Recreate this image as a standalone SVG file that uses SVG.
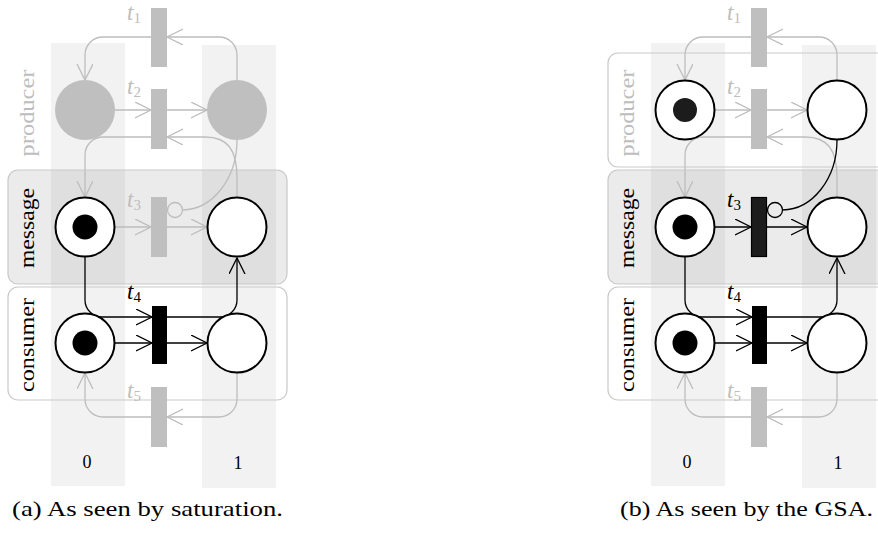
<svg xmlns="http://www.w3.org/2000/svg" width="878" height="539" viewBox="0 0 878 539">
  <style>
    .band { fill: #f2f2f2; }
    .lane { fill: none; stroke: #c9c9c9; stroke-width: 1.2; }
    .lane.msg { fill: #000; fill-opacity: 0.08; }
    .arc { fill: none; stroke-width: 1.3; }
    .g { stroke: #bdbdbd; }
    .k { stroke: #000; }
    .place { fill: #fff; stroke: #000; stroke-width: 2; }
    .gplace { fill: #bfbfbf; }
    .tok { fill: #000; }
    .tr-g { fill: #bfbfbf; }
    .tr-k { fill: #000; }
    .inh { fill: none; stroke-width: 1.3; }
    .tl { font-family: "Liberation Serif", serif; font-size: 23px; font-style: italic; }
    .tl tspan { font-size: 15px; font-style: normal; }
    .tl.gl { fill: #bdbdbd; }
    .ll { font-family: "Liberation Serif", serif; font-size: 22px; text-anchor: middle; }
    .ll.gl { fill: #bdbdbd; }
    .cl { font-family: "Liberation Serif", serif; font-size: 18px; text-anchor: middle; }
    .cap { font-family: "Liberation Serif", serif; font-size: 22px; }
  </style>
  <defs>
    <marker id="ah-g" markerUnits="userSpaceOnUse" viewBox="0 0 20 20" markerWidth="20" markerHeight="20" refX="16" refY="8" orient="auto">
      <path d="M0,0 L16,8 L0,16" fill="none" stroke="#bdbdbd" stroke-width="1.3"/>
    </marker>
    <marker id="ah-k" markerUnits="userSpaceOnUse" viewBox="0 0 20 20" markerWidth="20" markerHeight="20" refX="16" refY="8" orient="auto">
      <path d="M0,0 L16,8 L0,16" fill="none" stroke="#000" stroke-width="1.3"/>
    </marker>
  </defs>

  <!-- (a) saturation view -->
  <g id="fig-a">
    <rect class="band" x="51" y="43" width="74" height="443"/>
    <rect class="band" x="202" y="45" width="74" height="443"/>
    <rect class="lane msg" x="8" y="170" width="279" height="114" rx="10"/>
    <rect class="lane" x="8" y="287" width="279" height="113" rx="10"/>
    <text class="ll gl" transform="translate(33.5,113) rotate(-90)" x="0" y="0" textLength="87" lengthAdjust="spacingAndGlyphs">producer</text>
    <text class="ll" transform="translate(33.5,228) rotate(-90)" x="0" y="0" textLength="80" lengthAdjust="spacingAndGlyphs">message</text>
    <text class="ll" transform="translate(33.5,345) rotate(-90)" x="0" y="0" textLength="94" lengthAdjust="spacingAndGlyphs">consumer</text>

    <g id="a-connectors">
      <path class="arc g" d="M237,80 V55 A18,18 0 0 0 219,37 H167" marker-end="url(#ah-g)"/>
      <path class="arc g" d="M151,37 H103 A18,18 0 0 0 85,55 V80" marker-end="url(#ah-g)"/>
      <path class="arc g" d="M115,110 H151" marker-end="url(#ah-g)"/>
      <path class="arc g" d="M167,110 H207" marker-end="url(#ah-g)"/>
      <path class="arc g" d="M237,198 V178 C237,150 228,137 205,137 H167" marker-end="url(#ah-g)"/>
      <path class="arc g" d="M151,137 H103 A18,18 0 0 0 85,155 V197" marker-end="url(#ah-g)"/>
      <path class="arc g" d="M237,140 A55,70 0 0 1 182.5,210"/>
      <circle class="inh g" cx="175" cy="210" r="7.5"/>
      <path class="arc g" d="M115,227 H151" marker-end="url(#ah-g)"/>
      <path class="arc g" d="M167,227 H207" marker-end="url(#ah-g)"/>
      <path class="arc k" d="M85,257 V300 A17,17 0 0 0 102,317 H152" marker-end="url(#ah-k)"/>
      <path class="arc k" d="M167,317 H220 A17,17 0 0 0 237,300 V258" marker-end="url(#ah-k)"/>
      <path class="arc k" d="M115,343 H152" marker-end="url(#ah-k)"/>
      <path class="arc k" d="M167,343 H207" marker-end="url(#ah-k)"/>
      <path class="arc g" d="M237,373 V399 A18,18 0 0 1 219,417 H167" marker-end="url(#ah-g)"/>
      <path class="arc g" d="M151,417 H103 A18,18 0 0 1 85,399 V373" marker-end="url(#ah-g)"/>
    </g>

    <g id="a-prod-0"><circle class="gplace" cx="85" cy="110" r="30"/></g>
    <g id="a-prod-1"><circle class="gplace" cx="237" cy="110" r="30"/></g>
    <g id="a-msg-0"><circle class="place" cx="85" cy="227" r="29.5"/><circle class="tok" cx="85" cy="227" r="12.5"/></g>
    <g id="a-msg-1"><circle class="place" cx="237" cy="227" r="29.5"/></g>
    <g id="a-cons-0"><circle class="place" cx="85" cy="343" r="29.5"/><circle class="tok" cx="85" cy="343" r="12.5"/></g>
    <g id="a-cons-1"><circle class="place" cx="237" cy="343" r="29.5"/></g>

    <g id="a-t1"><rect class="tr-g" x="151" y="8" width="16" height="59"/><text class="tl gl" x="127" y="20">t<tspan dy="3">1</tspan></text></g>
    <g id="a-t2"><rect class="tr-g" x="151" y="89" width="16" height="60"/><text class="tl gl" x="127" y="94">t<tspan dy="3">2</tspan></text></g>
    <g id="a-t3"><rect class="tr-g" x="151" y="197" width="16" height="60"/><text class="tl gl" x="127" y="207">t<tspan dy="3">3</tspan></text></g>
    <g id="a-t4"><rect class="tr-k" x="152" y="306" width="15" height="58"/><text class="tl" x="127" y="299">t<tspan dy="3">4</tspan></text></g>
    <g id="a-t5"><rect class="tr-g" x="151" y="387" width="16" height="60"/><text class="tl gl" x="127" y="398">t<tspan dy="3">5</tspan></text></g>

    <text class="cl" x="87" y="468">0</text>
    <text class="cl" x="238" y="469">1</text>
    <text class="cap" x="12" y="516" textLength="271" lengthAdjust="spacingAndGlyphs">(a) As seen by saturation.</text>
  </g>

  <!-- (b) GSA view -->
  <g id="fig-b" transform="translate(600,0)">
    <rect class="band" x="51" y="43" width="74" height="443"/>
    <rect class="band" x="202" y="45" width="74" height="443"/>
    <rect class="lane" x="8" y="53" width="290" height="114" rx="10"/>
    <rect class="lane msg" x="8" y="170" width="290" height="114" rx="10"/>
    <rect class="lane" x="8" y="287" width="290" height="113" rx="10"/>
    <text class="ll gl" transform="translate(33.5,113) rotate(-90)" x="0" y="0" textLength="87" lengthAdjust="spacingAndGlyphs">producer</text>
    <text class="ll" transform="translate(33.5,228) rotate(-90)" x="0" y="0" textLength="80" lengthAdjust="spacingAndGlyphs">message</text>
    <text class="ll" transform="translate(33.5,345) rotate(-90)" x="0" y="0" textLength="94" lengthAdjust="spacingAndGlyphs">consumer</text>

    <g id="b-connectors">
      <path class="arc g" d="M237,80 V55 A18,18 0 0 0 219,37 H167" marker-end="url(#ah-g)"/>
      <path class="arc g" d="M151,37 H103 A18,18 0 0 0 85,55 V80" marker-end="url(#ah-g)"/>
      <path class="arc g" d="M115,110 H151" marker-end="url(#ah-g)"/>
      <path class="arc g" d="M167,110 H207" marker-end="url(#ah-g)"/>
      <path class="arc g" d="M237,198 V178 C237,150 228,137 205,137 H167" marker-end="url(#ah-g)"/>
      <path class="arc g" d="M151,137 H103 A18,18 0 0 0 85,155 V197" marker-end="url(#ah-g)"/>
      <path class="arc k" d="M237,140 A55,70 0 0 1 182.5,210"/>
      <circle class="inh k" cx="175" cy="210" r="7.5"/>
      <path class="arc k" d="M115,227 H151" marker-end="url(#ah-k)"/>
      <path class="arc k" d="M167,227 H207" marker-end="url(#ah-k)"/>
      <path class="arc k" d="M85,257 V300 A17,17 0 0 0 102,317 H152" marker-end="url(#ah-k)"/>
      <path class="arc k" d="M167,317 H220 A17,17 0 0 0 237,300 V258" marker-end="url(#ah-k)"/>
      <path class="arc k" d="M115,343 H152" marker-end="url(#ah-k)"/>
      <path class="arc k" d="M167,343 H207" marker-end="url(#ah-k)"/>
      <path class="arc g" d="M237,373 V399 A18,18 0 0 1 219,417 H167" marker-end="url(#ah-g)"/>
      <path class="arc g" d="M151,417 H103 A18,18 0 0 1 85,399 V373" marker-end="url(#ah-g)"/>
    </g>

    <g id="b-prod-0"><circle class="place" cx="85" cy="110" r="29.5"/><circle cx="85" cy="110" r="12" fill="#1c1c1c"/></g>
    <g id="b-prod-1"><circle class="place" cx="237" cy="110" r="29.5"/></g>
    <g id="b-msg-0"><circle class="place" cx="85" cy="227" r="29.5"/><circle class="tok" cx="85" cy="227" r="12.5"/></g>
    <g id="b-msg-1"><circle class="place" cx="237" cy="227" r="29.5"/></g>
    <g id="b-cons-0"><circle class="place" cx="85" cy="343" r="29.5"/><circle class="tok" cx="85" cy="343" r="12.5"/></g>
    <g id="b-cons-1"><circle class="place" cx="237" cy="343" r="29.5"/></g>

    <g id="b-t1"><rect class="tr-g" x="151" y="8" width="16" height="59"/><text class="tl gl" x="127" y="20">t<tspan dy="3">1</tspan></text></g>
    <g id="b-t2"><rect class="tr-g" x="151" y="89" width="16" height="60"/><text class="tl gl" x="127" y="94">t<tspan dy="3">2</tspan></text></g>
    <g id="b-t3"><rect x="151.5" y="197.5" width="15" height="59" fill="#1c1c1c" stroke="#000" stroke-width="1.2"/><text class="tl" x="127" y="207">t<tspan dy="3">3</tspan></text></g>
    <g id="b-t4"><rect class="tr-k" x="152" y="306" width="15" height="58"/><text class="tl" x="127" y="299">t<tspan dy="3">4</tspan></text></g>
    <g id="b-t5"><rect class="tr-g" x="151" y="387" width="16" height="60"/><text class="tl gl" x="127" y="398">t<tspan dy="3">5</tspan></text></g>

    <text class="cl" x="87" y="468">0</text>
    <text class="cl" x="238" y="469">1</text>
    <text class="cap" x="20" y="516" textLength="253" lengthAdjust="spacingAndGlyphs">(b) As seen by the GSA.</text>
  </g>
</svg>
